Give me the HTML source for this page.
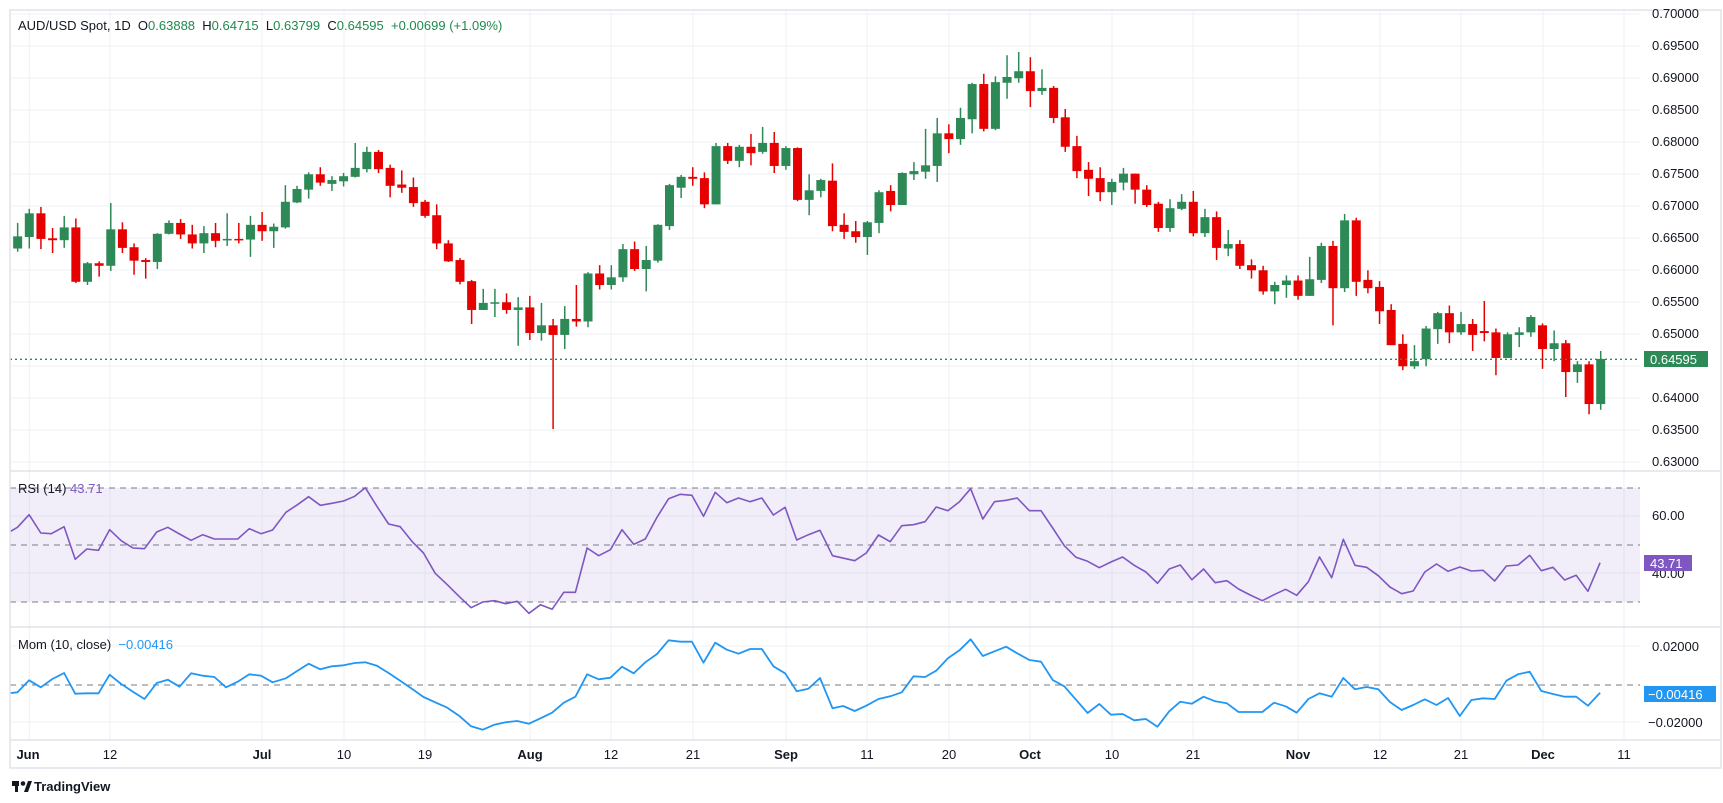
<!DOCTYPE html>
<html><head><meta charset="utf-8">
<style>
html,body{margin:0;padding:0;background:#fff;width:1723px;height:803px;overflow:hidden}
svg{display:block}
text{font-family:"Liberation Sans",sans-serif}
</style></head>
<body>
<svg id="c" width="1723" height="803" viewBox="0 0 1723 803" xmlns="http://www.w3.org/2000/svg">
<rect x="0" y="0" width="1723" height="803" fill="#fff"/>
<g id="grid" stroke="#eff1f5" stroke-width="1"></g>
<rect x="10" y="488" width="1630" height="114" fill="#7e57c2" fill-opacity="0.1"/>
<g stroke="#787b86" stroke-dasharray="6,5" stroke-width="1">
<line x1="10" y1="488" x2="1640" y2="488"/>
<line x1="10" y1="545" x2="1640" y2="545"/>
<line x1="10" y1="602" x2="1640" y2="602"/>
<line x1="10" y1="685" x2="1640" y2="685"/>
</g>
<g id="candles"></g>
<line x1="10" y1="359.3" x2="1640" y2="359.3" stroke="#2d8a57" stroke-width="1.3" stroke-dasharray="2,3"/>
<polyline id="rsi" fill="none" stroke="#7e57c2" stroke-width="1.6" stroke-linejoin="round"/>
<polyline id="mom" fill="none" stroke="#2196f3" stroke-width="1.8" stroke-linejoin="round"/>
<g stroke="#e0e3eb" stroke-width="1.5" fill="none">
<rect x="10" y="10" width="1711" height="758"/>
<line x1="10" y1="471" x2="1721" y2="471"/>
<line x1="10" y1="627" x2="1721" y2="627"/>
<line x1="10" y1="740" x2="1721" y2="740"/>
</g>
<g font-size="13" fill="#131722" id="plabels">
<text x="1652" y="18">0.70000</text>
<text x="1652" y="50">0.69500</text>
<text x="1652" y="82">0.69000</text>
<text x="1652" y="114">0.68500</text>
<text x="1652" y="146">0.68000</text>
<text x="1652" y="178">0.67500</text>
<text x="1652" y="210">0.67000</text>
<text x="1652" y="242">0.66500</text>
<text x="1652" y="274">0.66000</text>
<text x="1652" y="306">0.65500</text>
<text x="1652" y="338">0.65000</text>
<text x="1652" y="402">0.64000</text>
<text x="1652" y="434">0.63500</text>
<text x="1652" y="466">0.63000</text>
<text x="1652" y="520">60.00</text>
<text x="1652" y="578">40.00</text>
<text x="1652" y="651">0.02000</text>
<text x="1648" y="727">−0.02000</text>
</g>
<rect x="1644" y="351" width="64" height="16" fill="#2d8a57"/>
<text x="1650" y="364" font-size="13" fill="#fff">0.64595</text>
<rect x="1644" y="555" width="48" height="16" fill="#7e57c2"/>
<text x="1650" y="568" font-size="13" fill="#fff">43.71</text>
<rect x="1644" y="686" width="72" height="16" fill="#2196f3"/>
<text x="1648" y="699" font-size="13" fill="#fff">−0.00416</text>
<g font-size="13" fill="#131722" text-anchor="middle" id="dlabels">
<text x="28" y="759" font-weight="bold">Jun</text>
<text x="110" y="759">12</text>
<text x="262" y="759" font-weight="bold">Jul</text>
<text x="344" y="759">10</text>
<text x="425" y="759">19</text>
<text x="530" y="759" font-weight="bold">Aug</text>
<text x="611" y="759">12</text>
<text x="693" y="759">21</text>
<text x="786" y="759" font-weight="bold">Sep</text>
<text x="867" y="759">11</text>
<text x="949" y="759">20</text>
<text x="1030" y="759" font-weight="bold">Oct</text>
<text x="1112" y="759">10</text>
<text x="1193" y="759">21</text>
<text x="1298" y="759" font-weight="bold">Nov</text>
<text x="1380" y="759">12</text>
<text x="1461" y="759">21</text>
<text x="1543" y="759" font-weight="bold">Dec</text>
<text x="1624" y="759">11</text>
</g>
<text x="18" y="30" font-size="13" fill="#131722" xml:space="preserve">AUD/USD Spot, 1D  O<tspan fill="#1e8a4c">0.63888</tspan>  H<tspan fill="#1e8a4c">0.64715</tspan>  L<tspan fill="#1e8a4c">0.63799</tspan>  C<tspan fill="#1e8a4c">0.64595</tspan>  <tspan fill="#1e8a4c">+0.00699 (+1.09%)</tspan></text>
<text x="18" y="493" font-size="13" fill="#131722" xml:space="preserve">RSI (14) <tspan fill="#7e57c2">43.71</tspan></text>
<text x="18" y="649" font-size="13" fill="#131722" xml:space="preserve">Mom (10, close)  <tspan fill="#2196f3">−0.00416</tspan></text>
<g transform="translate(12,780)">
<rect x="0" y="1" width="7" height="5" fill="#131722"/>
<rect x="3" y="1" width="3" height="11" fill="#131722"/>
<circle cx="11" cy="3.5" r="2.3" fill="#131722"/>
<polygon points="12,12 16,1 20,1 16,12" fill="#131722"/>
<text x="22" y="11" font-size="13" font-weight="bold" fill="#131722">TradingView</text>
</g>
</svg>
<script>
var NS="http://www.w3.org/2000/svg";
function el(t,a,p){var e=document.createElementNS(NS,t);for(var k in a)e.setAttribute(k,a[k]);p.appendChild(e);return e;}
var g=document.getElementById('grid');
var py=[13,45,77,109,141,173,205,237,269,301,333,365,397,429,461];
py.forEach(function(y){el('line',{x1:10,y1:y+1,x2:1640,y2:y+1},g);});
[516,573,646,722].forEach(function(y){el('line',{x1:10,y1:y,x2:1640,y2:y},g);});
[29.3,110,262,344,425,530,611,693,786,867,949,1030,1112,1193,1298,1380,1461,1543,1624].forEach(function(x){el('line',{x1:x,y1:10,x2:x,y2:740},g);});
var D=[[.6632,.6672,.6627,.6651],[.6650,.6694,.6632,.6687],[.6687,.6697,.6631,.6647],[.6648,.6664,.6625,.6645],[.6645,.6683,.6633,.6665],[.6665,.6679,.6578,.6580],[.6580,.6611,.6575,.6609],[.6609,.6612,.6588,.6605],[.6605,.6703,.6597,.6662],[.6662,.6673,.6625,.6633],[.6634,.6640,.6591,.6613],[.6614,.6617,.6585,.6611],[.6611,.6656,.6600,.6655],[.6655,.6676,.6654,.6672],[.6672,.6678,.6647,.6654],[.6654,.6669,.6632,.6640],[.6640,.6667,.6625,.6656],[.6656,.6672,.6634,.6644],[.6646,.6687,.6636,.6647],[.6647,.6672,.6640,.6646],[.6646,.6683,.6619,.6669],[.6669,.6689,.6644,.6659],[.6659,.6671,.6633,.6666],[.6665,.6731,.6663,.6705],[.6704,.6730,.6703,.6725],[.6724,.6751,.6710,.6748],[.6748,.6759,.6730,.6735],[.6733,.6745,.6722,.6739],[.6737,.6750,.6729,.6745],[.6744,.6797,.6743,.6758],[.6756,.6791,.6751,.6783],[.6783,.6786,.6750,.6756],[.6758,.6763,.6712,.6730],[.6732,.6754,.6719,.6727],[.6728,.6743,.6697,.6703],[.6705,.6708,.6680,.6683],[.6684,.6701,.6631,.6640],[.6640,.6645,.6611,.6612],[.6614,.6617,.6576,.6580],[.6581,.6583,.6514,.6536],[.6536,.6569,.6536,.6547],[.6547,.6569,.6525,.6548],[.6548,.6562,.6530,.6536],[.6536,.6556,.6480,.6540],[.6540,.6558,.6489,.6500],[.6500,.6547,.6488,.6512],[.6512,.6522,.6350,.6497],[.6497,.6542,.6475,.6522],[.6522,.6575,.6510,.6518],[.6518,.6595,.6509,.6593],[.6593,.6606,.6568,.6575],[.6575,.6606,.6568,.6587],[.6587,.6639,.6580,.6631],[.6631,.6643,.6597,.6600],[.6600,.6636,.6565,.6614],[.6613,.6670,.6610,.6669],[.6667,.6733,.6661,.6731],[.6727,.6747,.6711,.6744],[.6744,.6759,.6730,.6741],[.6742,.6751,.6695,.6701],[.6701,.6797,.6701,.6792],[.6792,.6797,.6764,.6769],[.6769,.6794,.6759,.6791],[.6791,.6811,.6762,.6781],[.6783,.6822,.6780,.6797],[.6797,.6814,.6750,.6761],[.6761,.6792,.6755,.6789],[.6789,.6790,.6706,.6708],[.6708,.6748,.6684,.6723],[.6722,.6741,.6712,.6739],[.6738,.6765,.6659,.6667],[.6669,.6687,.6647,.6658],[.6659,.6675,.6641,.6650],[.6650,.6675,.6622,.6673],[.6672,.6723,.6656,.6720],[.6722,.6731,.6690,.6700],[.6700,.6751,.6700,.6750],[.6748,.6767,.6739,.6753],[.6752,.6819,.6741,.6762],[.6761,.6836,.6736,.6812],[.6812,.6826,.6781,.6803],[.6803,.6852,.6794,.6836],[.6834,.6891,.6812,.6889],[.6889,.6905,.6815,.6819],[.6819,.6901,.6817,.6892],[.6891,.6934,.6866,.6900],[.6898,.6939,.6891,.6909],[.6909,.6931,.6853,.6878],[.6878,.6912,.6872,.6883],[.6883,.6886,.6828,.6836],[.6837,.6850,.6783,.6791],[.6792,.6808,.6742,.6753],[.6755,.6767,.6714,.6741],[.6742,.6759,.6706,.6720],[.6720,.6741,.6700,.6736],[.6735,.6758,.6723,.6749],[.6749,.6749,.6702,.6724],[.6724,.6731,.6697,.6700],[.6702,.6705,.6658,.6664],[.6664,.6709,.6658,.6695],[.6694,.6717,.6692,.6705],[.6705,.6722,.6651,.6656],[.6656,.6694,.6650,.6681],[.6681,.6690,.6614,.6633],[.6632,.6661,.6620,.6639],[.6639,.6645,.6600,.6605],[.6606,.6615,.6585,.6598],[.6598,.6605,.6560,.6565],[.6565,.6580,.6545,.6575],[.6575,.6590,.6555,.6582],[.6582,.6590,.6552,.6558],[.6558,.6619,.6558,.6584],[.6583,.6641,.6578,.6636],[.6636,.6644,.6512,.6570],[.6570,.6686,.6564,.6676],[.6676,.6680,.6558,.6580],[.6583,.6598,.6562,.6570],[.6572,.6581,.6514,.6534],[.6536,.6545,.6481,.6481],[.6483,.6498,.6442,.6448],[.6448,.6481,.6444,.6456],[.6459,.6511,.6448,.6507],[.6506,.6533,.6483,.6531],[.6531,.6543,.6484,.6501],[.6501,.6533,.6497,.6514],[.6514,.6522,.6472,.6497],[.6503,.6550,.6487,.6500],[.6501,.6507,.6434,.6461],[.6461,.6501,.6461,.6498],[.6497,.6509,.6478,.6501],[.6501,.6528,.6494,.6525],[.6512,.6515,.6444,.6475],[.6475,.6504,.6456,.6484],[.6484,.6489,.6400,.6439],[.6439,.6456,.6422,.6451],[.6451,.6456,.6373,.6389],[.6389,.6472,.6380,.64595]];
function Y(p){return 365+(0.645-p)*6400;}
var cg=document.getElementById('candles');
D.forEach(function(d,i){var x=29.3+(i-1)*11.64;var up=d[3]>=d[0];var col=up?'#2d8a57':'#e60000';
el('line',{x1:x,y1:Y(d[1]),x2:x,y2:Y(d[2]),stroke:col,'stroke-width':1.5},cg);
var t=Y(Math.max(d[0],d[3])),b=Y(Math.min(d[0],d[3]));if(b-t<1.5){b=t+1.5;}
el('rect',{x:x-4.5,y:t,width:9,height:b-t,fill:col},cg);});
function pts(a,x0){return a.map(function(p){return ((x0+p[0]/1.889).toFixed(1))+','+((478+p[1]/3).toFixed(1));}).join(' ');}
var r1=[[20,160],[33,148],[55,110],[77,165],[97,167],[121,146],[142,244],[164,213],[186,217],[207,155],[229,188],[251,210],[273,212],[296,162],[317,148],[339,168],[361,187],[383,170],[405,183],[427,183],[449,183],[471,152],[493,167],[515,156],[540,103],[562,80],[583,56],[605,82],[627,76],[649,69],[670,55],[690,29],[712,85],[734,138],[756,146],[778,190],[800,225],[822,286],[845,320],[867,355],[890,389],[912,372],[934,368],[955,377],[977,370],[999,406],[1021,380],[1043,394],[1065,343],[1087,343],[1109,210],[1131,233],[1153,215],[1175,155],[1197,199],[1219,183],[1241,118],[1263,62],[1285,49],[1307,52],[1329,115],[1351,43],[1373,74],[1395,60],[1417,71],[1439,60],[1461,111],[1483,88],[1505,186],[1527,170],[1549,157]];
var r2=[[33,233],[55,241],[75,248],[97,225],[120,171],[142,191],[164,143],[186,140],[208,131],[229,87],[251,98],[273,71],[294,32],[317,123],[339,71],[361,67],[382,60],[405,98],[427,98],[449,150],[471,203],[493,238],[515,250],[537,269],[559,252],[581,237],[603,262],[625,282],[647,316],[669,273],[690,261],[712,305],[734,273],[756,314],[778,308],[800,333],[822,351],[845,368],[867,350],[889,334],[910,352],[932,311],[953,237],[976,299],[998,184],[1020,262],[1042,268],[1064,293],[1086,327],[1108,347],[1130,339],[1152,282],[1174,258],[1196,280],[1218,267],[1240,279],[1262,277],[1284,309],[1306,264],[1328,261],[1350,232],[1372,278],[1394,268],[1416,306],[1438,292],[1460,340],[1483,254]];
var m1=[[20,645],[33,643],[55,607],[77,628],[99,603],[121,585],[142,647],[164,646],[186,646],[207,590],[229,618],[251,641],[273,663],[296,615],[317,605],[339,626],[361,586],[383,593],[405,597],[427,628],[449,611],[471,589],[493,593],[515,613],[540,601],[562,578],[583,557],[605,574],[627,565],[649,562],[670,555],[690,553],[712,563],[734,585],[756,608],[778,632],[800,657],[822,673],[845,689],[867,713],[890,745],[912,755],[934,740],[955,733],[977,729],[999,737],[1021,721],[1043,704],[1065,674],[1087,656],[1109,589],[1131,604],[1153,599],[1175,566],[1197,586],[1219,553],[1241,528],[1263,487],[1285,491],[1307,491],[1329,554],[1351,494],[1373,515],[1395,527],[1417,513],[1439,513],[1461,565],[1483,586],[1505,640],[1527,632],[1549,600]];
var m2=[[33,691],[53,684],[75,699],[97,683],[120,663],[142,655],[164,643],[186,595],[208,597],[229,578],[251,541],[273,517],[294,484],[317,534],[339,520],[361,506],[382,526],[405,546],[427,551],[449,606],[471,625],[493,665],[515,705],[537,678],[559,710],[581,708],[603,727],[625,723],[647,746],[669,700],[690,671],[712,677],[734,656],[756,670],[778,676],[800,702],[822,702],[845,702],[867,674],[889,685],[910,704],[932,663],[953,646],[976,656],[998,600],[1020,634],[1042,627],[1064,634],[1086,672],[1108,696],[1130,681],[1152,664],[1174,681],[1196,660],[1218,714],[1240,666],[1262,661],[1284,663],[1306,608],[1328,589],[1350,581],[1372,639],[1394,648],[1416,656],[1438,656],[1460,683],[1483,644]];
document.getElementById('rsi').setAttribute('points',pts(r1,0)+' '+pts(r2,815));
document.getElementById('mom').setAttribute('points',pts(m1,0)+' '+pts(m2,815));
</script>
</body></html>
